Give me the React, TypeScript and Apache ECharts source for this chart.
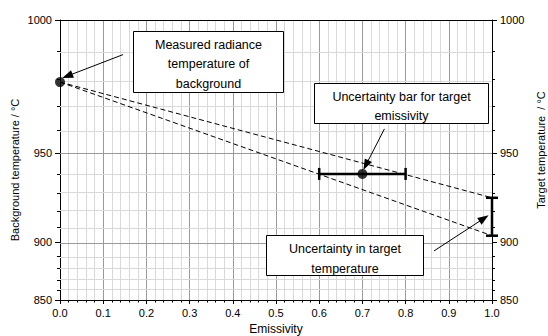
import React, { useEffect, useRef } from "react";
import * as echarts from "echarts";

// ---- data ----
const backgroundPoint: [number, number] = [0, 979];
const measuredPoint: [number, number] = [0.7, 940];
const upperLine: [number, number][] = [[0, 979], [1, 927.5]];
const lowerLine: [number, number][] = [[0, 979], [1, 904.5]];
const emissivityBar: [number, number][] = [[0.6, 940], [0.8, 940]];
const targetBar: [number, number][] = [[1, 927.5], [1, 904.5]];
const yMajorTicks = [850, 900, 950, 1000];
const yMinorTicks = [850, 860, 870, 880, 890, 900, 910, 920, 930, 940, 950, 960, 970, 980, 990, 1000];
const xTickLabels = ["0.0", "0.1", "0.2", "0.3", "0.4", "0.5", "0.6", "0.7", "0.8", "0.9", "1.0"];
// arrows: [tail, tip] in (emissivity, °C)
const arrows: [number, number][][] = [
  [[0.146, 988.7], [0.017, 981.2]],
  [[0.751, 960.6], [0.708, 944.3]],
  [[0.8657, 893.8], [0.9815, 915.6]],
];

// radiance-type temperature scale (Wien, 1 µm)
const C2 = 14388;
const toU = (t: number) => Math.exp(C2 / 1273.15 - C2 / (t + 273.15));
const fromU = (u: number) => C2 / (C2 / 1273.15 - Math.log(u)) - 273.15;
const pt = (p: [number, number]) => [p[0], toU(p[1])];

const FONT = "Arial, 'Liberation Sans', sans-serif";

export default function App() {
  const ref = useRef<HTMLDivElement>(null);
  useEffect(() => {
    if (!ref.current) return;
    const chart = echarts.init(ref.current, undefined, { renderer: "svg" });
    const yMin = toU(yMajorTicks[0]);
    const yMax = toU(yMajorTicks[yMajorTicks.length - 1]);
    const gridRect = { left: 60, top: 20, width: 432, height: 280, outerBoundsMode: "none" };
    const labelStyle = { color: "#000", fontSize: 11, fontFamily: FONT };
    const black = "#000";
    const minorOnly = yMinorTicks.filter((t) => !yMajorTicks.includes(t));
    const innerMajors = yMajorTicks.slice(1, -1);
    const option: any = {
      animation: false,
      grid: [gridRect, { ...gridRect }],
      xAxis: [
        {
          type: "value",
          gridIndex: 0,
          min: 0,
          max: 1,
          interval: 0.1,
          name: "Emissivity",
          nameLocation: "middle",
          nameGap: 23,
          nameTextStyle: { color: "#000", fontSize: 12, fontFamily: FONT },
          axisLine: { show: true, lineStyle: { color: black, width: 1 } },
          axisTick: { show: true, length: 4, lineStyle: { color: black } },
          minorTick: { show: true, splitNumber: 5, length: 2.5, lineStyle: { color: black } },
          splitLine: { show: true, lineStyle: { color: "#9a9a9a", width: 1 } },
          minorSplitLine: { show: true, lineStyle: { color: "#d9d9d9", width: 1 } },
          axisLabel: {
            ...labelStyle,
            margin: 7,
            formatter: (v: number) => xTickLabels[Math.round(v * 10)] ?? "",
          },
        },
        {
          type: "value",
          gridIndex: 1,
          min: 0,
          max: 1,
          position: "top",
          axisLine: { show: true, lineStyle: { color: black, width: 1 } },
          axisTick: { show: false },
          axisLabel: { show: false },
          splitLine: { show: false },
        },
      ],
      yAxis: [
        {
          type: "value",
          gridIndex: 0,
          position: "left",
          min: yMin,
          max: yMax,
          axisLine: { show: true, lineStyle: { color: black, width: 1 } },
          axisTick: { show: true, length: 3, customValues: yMinorTicks.map(toU), lineStyle: { color: black } },
          splitLine: { show: false },
          axisLabel: {
            ...labelStyle,
            margin: 8,
            customValues: yMajorTicks.map(toU),
            formatter: (v: number) => String(Math.round(fromU(v))),
          },
        },
        {
          type: "value",
          gridIndex: 0,
          position: "right",
          min: yMin,
          max: yMax,
          axisLine: { show: true, lineStyle: { color: black, width: 1 } },
          axisTick: { show: true, length: 3, customValues: yMinorTicks.map(toU), lineStyle: { color: black } },
          splitLine: { show: false },
          axisLabel: {
            ...labelStyle,
            margin: 8,
            customValues: yMajorTicks.map(toU),
            formatter: (v: number) => String(Math.round(fromU(v))),
          },
        },
        {
          type: "value",
          gridIndex: 1,
          position: "left",
          min: yMin,
          max: yMax,
          axisLine: { show: false },
          axisTick: { show: true, length: 5, customValues: yMajorTicks.map(toU), lineStyle: { color: black } },
          splitLine: { show: false },
          axisLabel: { show: false },
        },
        {
          type: "value",
          gridIndex: 1,
          position: "right",
          min: yMin,
          max: yMax,
          axisLine: { show: false },
          axisTick: { show: true, length: 5, customValues: yMajorTicks.map(toU), lineStyle: { color: black } },
          splitLine: { show: false },
          axisLabel: { show: false },
        },
      ],
      series: [
        {
          type: "line",
          xAxisIndex: 0,
          yAxisIndex: 0,
          data: [],
          z: 1,
          silent: true,
          markLine: {
            silent: true,
            z: 1,
            symbol: ["none", "none"],
            label: { show: false },
            lineStyle: { color: "#d9d9d9", width: 1, type: "solid" },
            data: minorOnly.map((t) => ({ yAxis: toU(t) })),
          },
        },
        {
          type: "line",
          xAxisIndex: 0,
          yAxisIndex: 0,
          data: [],
          z: 1,
          silent: true,
          markLine: {
            silent: true,
            z: 1,
            symbol: ["none", "none"],
            label: { show: false },
            lineStyle: { color: "#9a9a9a", width: 1, type: "solid" },
            data: innerMajors.map((t) => ({ yAxis: toU(t) })),
          },
        },
        {
          type: "line",
          xAxisIndex: 0,
          yAxisIndex: 0,
          data: upperLine.map(pt),
          showSymbol: false,
          symbol: "none",
          lineStyle: { color: black, width: 1, type: [5, 3] },
          z: 10,
        },
        {
          type: "line",
          xAxisIndex: 0,
          yAxisIndex: 0,
          data: lowerLine.map(pt),
          showSymbol: false,
          symbol: "none",
          lineStyle: { color: black, width: 1, type: [5, 3] },
          z: 10,
        },
        {
          type: "line",
          xAxisIndex: 0,
          yAxisIndex: 0,
          data: emissivityBar.map(pt),
          symbol: "rect",
          symbolSize: [2.5, 12],
          itemStyle: { color: black },
          lineStyle: { color: black, width: 2.5 },
          z: 11,
        },
        {
          type: "line",
          xAxisIndex: 0,
          yAxisIndex: 0,
          data: targetBar.map(pt),
          symbol: "rect",
          symbolSize: [12, 2.5],
          itemStyle: { color: black },
          lineStyle: { color: black, width: 2.5 },
          z: 11,
        },
        {
          type: "scatter",
          xAxisIndex: 0,
          yAxisIndex: 0,
          data: [pt(backgroundPoint), pt(measuredPoint)],
          symbol: "circle",
          symbolSize: 10,
          itemStyle: { color: black },
          z: 12,
          markLine: {
            silent: true,
            z: 12,
            symbol: ["none", "triangle"],
            symbolSize: [8, 11],
            label: { show: false },
            lineStyle: { color: black, width: 1, type: "solid" },
            data: arrows.map((a) => [{ coord: pt(a[0]) }, { coord: pt(a[1]) }]),
          },
        },
      ],
      graphic: [
        {
          type: "text",
          z: 50,
          x: 15,
          y: 170,
          rotation: Math.PI / 2,
          style: {
            text: "Background temperature / °C",
            fill: "#000",
            fontSize: 11,
            fontFamily: FONT,
            align: "center",
            verticalAlign: "middle",
            textAlign: "center",
            textVerticalAlign: "middle",
          },
        },
        {
          type: "text",
          z: 50,
          x: 541,
          y: 150,
          rotation: Math.PI / 2,
          style: {
            text: "Target temperature  / °C",
            fill: "#000",
            fontSize: 11,
            fontFamily: FONT,
            align: "center",
            verticalAlign: "middle",
            textAlign: "center",
            textVerticalAlign: "middle",
          },
        },
        ...[
          { x: 133, y: 31, w: 150, h: 61, cy: 64, lh: 19.5, text: "Measured radiance\ntemperature of\nbackground" },
          { x: 314, y: 83, w: 174, h: 40, cy: 106.5, lh: 19, text: "Uncertainty bar for target\nemissivity" },
          { x: 266, y: 235, w: 157, h: 40, cy: 259, lh: 19.5, text: "Uncertainty in target\ntemperature" },
        ].map((b) => ({
          type: "group",
          z: 60,
          children: [
            {
              type: "rect",
              z: 60,
              shape: { x: b.x + 0.5, y: b.y + 0.5, width: b.w, height: b.h },
              style: { fill: "#fff", stroke: "#000", lineWidth: 1 },
            },
            {
              type: "text",
              z: 61,
              x: b.x + b.w / 2 + 0.5,
              y: b.cy,
              style: {
                text: b.text,
                fill: "#000",
                fontSize: 12.5,
                fontFamily: FONT,
                lineHeight: b.lh,
                align: "center",
                verticalAlign: "middle",
                textAlign: "center",
                textVerticalAlign: "middle",
              },
            },
          ],
        })),
      ],
    };
    chart.setOption(option);
    return () => chart.dispose();
  }, []);
  return (
    <div
      ref={ref}
      style={{ position: "absolute", left: 0, top: 0, width: 548, height: 336, background: "#fff" }}
    />
  );
}
